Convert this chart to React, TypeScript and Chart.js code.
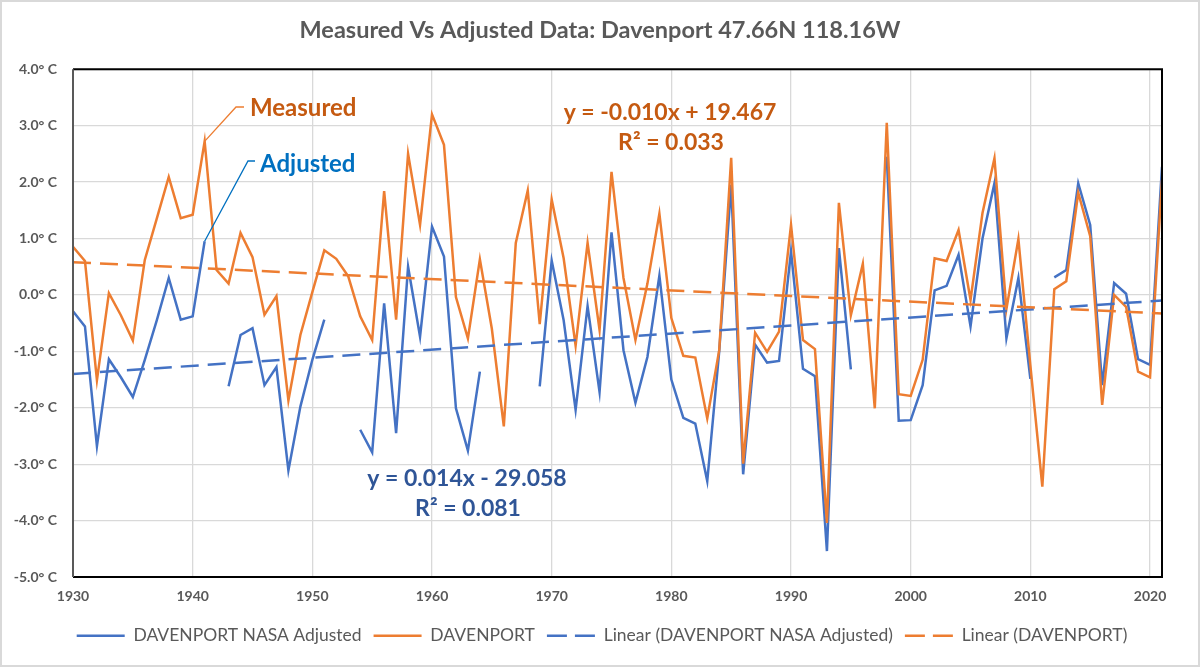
import React, { useEffect, useRef } from "react";
import { Chart, registerables } from "chart.js";

Chart.register(...registerables);

// ---------- data ----------
const years = [
  1930, 1931, 1932, 1933, 1934, 1935, 1936, 1937, 1938, 1939,
  1940, 1941, 1942, 1943, 1944, 1945, 1946, 1947, 1948, 1949,
  1950, 1951, 1952, 1953, 1954, 1955, 1956, 1957, 1958, 1959,
  1960, 1961, 1962, 1963, 1964, 1965, 1966, 1967, 1968, 1969,
  1970, 1971, 1972, 1973, 1974, 1975, 1976, 1977, 1978, 1979,
  1980, 1981, 1982, 1983, 1984, 1985, 1986, 1987, 1988, 1989,
  1990, 1991, 1992, 1993, 1994, 1995, 1996, 1997, 1998, 1999,
  2000, 2001, 2002, 2003, 2004, 2005, 2006, 2007, 2008, 2009,
  2010, 2011, 2012, 2013, 2014, 2015, 2016, 2017, 2018, 2019,
  2020, 2021,
];

// DAVENPORT NASA Adjusted (°C anomaly), null = missing year
const adjusted: (number | null)[] = [
  -0.29, -0.56, -2.68, -1.14, -1.46, -1.81, -1.15, -0.45, 0.30, -0.44,
  -0.38, 0.95, null, -1.62, -0.71, -0.59, -1.60, -1.28, -3.11, -1.98,
  -1.15, -0.44, null, null, -2.39, -2.79, -0.15, -2.45, 0.50, -0.74,
  1.21, 0.68, -2.01, -2.76, -1.36, null, null, null, null, -1.62,
  0.61, -0.45, -2.04, -0.20, -1.72, 1.11, -0.98, -1.91, -1.10, 0.34,
  -1.50, -2.18, -2.28, -3.30, -1.00, 1.95, -3.18, -0.88, -1.20, -1.17,
  0.77, -1.31, -1.44, -4.54, 0.83, -1.32, null, null, 2.45, -2.23,
  -2.22, -1.60, 0.08, 0.16, 0.71, -0.56, 1.00, 1.98, -0.77, 0.30,
  -1.49, null, 0.31, 0.44, 1.98, 1.24, -1.60, 0.21, 0.02, -1.14,
  -1.24, 2.27,
];

// DAVENPORT measured
const measured: (number | null)[] = [
  0.85, 0.60, -1.51, 0.03, -0.36, -0.81, 0.62, 1.35, 2.09, 1.36,
  1.42, 2.72, 0.44, 0.20, 1.10, 0.67, -0.35, -0.02, -1.87, -0.71,
  0.05, 0.79, 0.64, 0.33, -0.38, -0.80, 1.84, -0.44, 2.50, 1.24,
  3.20, 2.66, -0.04, -0.77, 0.63, -0.60, -2.33, 0.92, 1.85, -0.52,
  1.69, 0.65, -0.90, 0.92, -0.62, 2.18, 0.30, -0.80, 0.20, 1.44,
  -0.41, -1.08, -1.11, -2.19, -0.98, 2.43, -2.99, -0.67, -1.01, -0.65,
  1.24, -0.80, -0.96, -4.04, 1.63, -0.36, 0.55, -2.01, 3.05, -1.76,
  -1.79, -1.15, 0.65, 0.60, 1.15, -0.09, 1.45, 2.42, -0.25, 0.99,
  -1.25, -3.40, 0.10, 0.24, 1.81, 1.04, -1.95, 0.00, -0.21, -1.36,
  -1.46, 2.04,
];

// Linear trend end points
const trendYears = [1930, 2021];
const adjustedTrend = [-1.40, -0.10];
const measuredTrend = [0.58, -0.33];

const xTicks = [1930, 1940, 1950, 1960, 1970, 1980, 1990, 2000, 2010, 2020];
const yMin = -5;
const yMax = 4;

const seriesNames = [
  "DAVENPORT NASA Adjusted",
  "DAVENPORT",
  "Linear (DAVENPORT NASA Adjusted)",
  "Linear (DAVENPORT)",
];

const titleText = "Measured Vs Adjusted Data: Davenport 47.66N 118.16W";
const measuredEq = ["y = -0.010x + 19.467", "R² = 0.033"];
const adjustedEq = ["y = 0.014x - 29.058", "R² = 0.081"];
const calloutYear = 1941;

// ---------- styling ----------
const BLUE = "#4472c4";
const ORANGE = "#ed7d31";
const FONT = "Lato";

const pts = (xs: number[], ys: (number | null)[]) =>
  xs.map((x, i) => ({ x, y: ys[i] }));

const bgPlugin = {
  id: "bgFrame",
  afterLayout(chart: any) {
    // centre title and legend on the whole canvas (not only the padded box)
    if (chart.titleBlock) {
      chart.titleBlock.left += 19;
      chart.titleBlock.right += 19;
    }
    if (chart.legend) {
      chart.legend.left += 21;
      chart.legend.right += 21;
    }
  },
  beforeDraw(chart: any) {
    const { ctx, width, height } = chart;
    ctx.save();
    ctx.fillStyle = "#ffffff";
    ctx.fillRect(0, 0, width, height);
    ctx.strokeStyle = "#d9d9d9";
    ctx.lineWidth = 2;
    ctx.strokeRect(1, 1, width - 2, height - 2);
    ctx.restore();
  },
};

const plotBorder = {
  id: "plotBorder",
  afterDatasetsDraw(chart: any) {
    const { ctx, chartArea: a } = chart;
    ctx.save();
    ctx.lineWidth = 2;
    ctx.strokeStyle = "#000000";
    ctx.beginPath();
    ctx.moveTo(a.left, a.top);
    ctx.lineTo(a.right, a.top);
    ctx.lineTo(a.right, a.bottom);
    ctx.lineTo(a.left, a.bottom);
    ctx.stroke();
    ctx.strokeStyle = "#595959";
    ctx.beginPath();
    ctx.moveTo(a.left, a.top);
    ctx.lineTo(a.left, a.bottom);
    ctx.stroke();
    ctx.restore();
  },
};

const notesPlugin = {
  id: "notes",
  afterDraw(chart: any) {
    const { ctx } = chart;
    const xs = chart.scales.x;
    const ys = chart.scales.y;
    const i = years.indexOf(calloutYear);
    const px = xs.getPixelForValue(calloutYear);
    const pm = ys.getPixelForValue(measured[i] as number);
    const pa = ys.getPixelForValue(adjusted[i] as number);
    ctx.save();
    // leader lines
    ctx.lineWidth = 1.3;
    ctx.strokeStyle = ORANGE;
    ctx.beginPath();
    ctx.moveTo(px, pm);
    ctx.lineTo(236, 107);
    ctx.lineTo(244, 107);
    ctx.stroke();
    ctx.strokeStyle = "#0070c0";
    ctx.beginPath();
    ctx.moveTo(px, pa);
    ctx.lineTo(248, 161);
    ctx.lineTo(255, 161);
    ctx.stroke();

    ctx.textBaseline = "middle";
    ctx.textAlign = "left";
    ctx.font = `bold 24px ${FONT}`;
    ctx.fillStyle = "#c55a11";
    ctx.fillText("Measured", 250, 108);
    ctx.fillStyle = "#0070c0";
    ctx.fillText("Adjusted", 260, 164);

    ctx.font = `bold 23px ${FONT}`;
    ctx.textAlign = "center";
    ctx.fillStyle = "#c55a11";
    ctx.fillText(measuredEq[0], 670, 113);
    ctx.fillText(measuredEq[1], 671, 143);
    ctx.fillStyle = "#2f5597";
    ctx.fillText(adjustedEq[0], 467, 479);
    ctx.fillText(adjustedEq[1], 468, 509);
    ctx.restore();
  },
};

export default function App() {
  const canvasRef = useRef<HTMLCanvasElement | null>(null);

  useEffect(() => {
    document.body.style.margin = "0";
    const canvas = canvasRef.current;
    if (!canvas) return;

    const chart = new Chart(canvas, {
      type: "line",
      data: {
        datasets: [
          {
            label: seriesNames[0],
            data: pts(years, adjusted),
            borderColor: BLUE,
            backgroundColor: BLUE,
            borderWidth: 2.5,
            pointRadius: 0,
            spanGaps: false,
            tension: 0,
            order: 3,
          },
          {
            label: seriesNames[1],
            data: pts(years, measured),
            borderColor: ORANGE,
            backgroundColor: ORANGE,
            borderWidth: 2.5,
            pointRadius: 0,
            spanGaps: false,
            tension: 0,
            order: 2,
          },
          {
            label: seriesNames[2],
            data: pts(trendYears, adjustedTrend),
            borderColor: BLUE,
            backgroundColor: BLUE,
            borderWidth: 2.5,
            borderDash: [18, 9],
            pointRadius: 0,
            order: 1,
          },
          {
            label: seriesNames[3],
            data: pts(trendYears, measuredTrend),
            borderColor: ORANGE,
            backgroundColor: ORANGE,
            borderWidth: 2.5,
            borderDash: [18, 9],
            pointRadius: 0,
            order: 0,
          },
        ],
      },
      options: {
        responsive: false,
        animation: false,
        events: [],
        layout: { padding: { left: 0, right: 38, top: 0, bottom: 12.5 } },
        scales: {
          x: {
            type: "linear",
            min: years[0],
            max: years[years.length - 1],
            afterBuildTicks: (s: any) => {
              s.ticks = xTicks.map((v) => ({ value: v }));
            },
            afterFit: (s: any) => {
              s.height = 38;
            },
            grid: { color: "#d9d9d9", lineWidth: 1.3, drawTicks: false },
            border: { display: false },
            ticks: {
              padding: 11,
              color: "#595959",
              font: { family: FONT, size: 14, weight: "bold" },
              callback: (v: any) => String(v),
              maxRotation: 0,
            },
          },
          y: {
            min: yMin,
            max: yMax,
            afterFit: (s: any) => {
              s.width = 73;
            },
            grid: { color: "#d9d9d9", lineWidth: 1.3, drawTicks: false },
            border: { display: false },
            ticks: {
              stepSize: 1,
              padding: 16,
              color: "#595959",
              font: { family: FONT, size: 14, weight: "bold" },
              callback: (v: any) => Number(v).toFixed(1) + "° C",
            },
          },
        },
        plugins: {
          title: {
            display: true,
            text: titleText,
            color: "#595959",
            font: { family: FONT, size: 23.5, weight: "bold" },
            padding: { top: 16, bottom: 25 },
          },
          legend: {
            display: true,
            position: "bottom",
            labels: {
              usePointStyle: true,
              pointStyle: "line",
              pointStyleWidth: 48,
              padding: 12,
              color: "#595959",
              font: { family: FONT, size: 17.5 },
              generateLabels: (ch: any) =>
                ch.data.datasets.map((ds: any, i: number) => ({
                  text: ds.label,
                  fillStyle: ds.borderColor,
                  strokeStyle: ds.borderColor,
                  fontColor: "#595959",
                  lineWidth: 2.5,
                  lineDash: ds.borderDash ? [20, 8] : [],
                  lineCap: "butt",
                  pointStyle: "line",
                  hidden: false,
                  datasetIndex: i,
                })),
            },
          },
          tooltip: { enabled: false },
        },
      },
      plugins: [bgPlugin, plotBorder, notesPlugin],
    } as any);

    return () => chart.destroy();
  }, []);

  return (
    <div style={{ width: 1200, height: 667 }}>
      <canvas ref={canvasRef} width={1200} height={667} />
    </div>
  );
}
